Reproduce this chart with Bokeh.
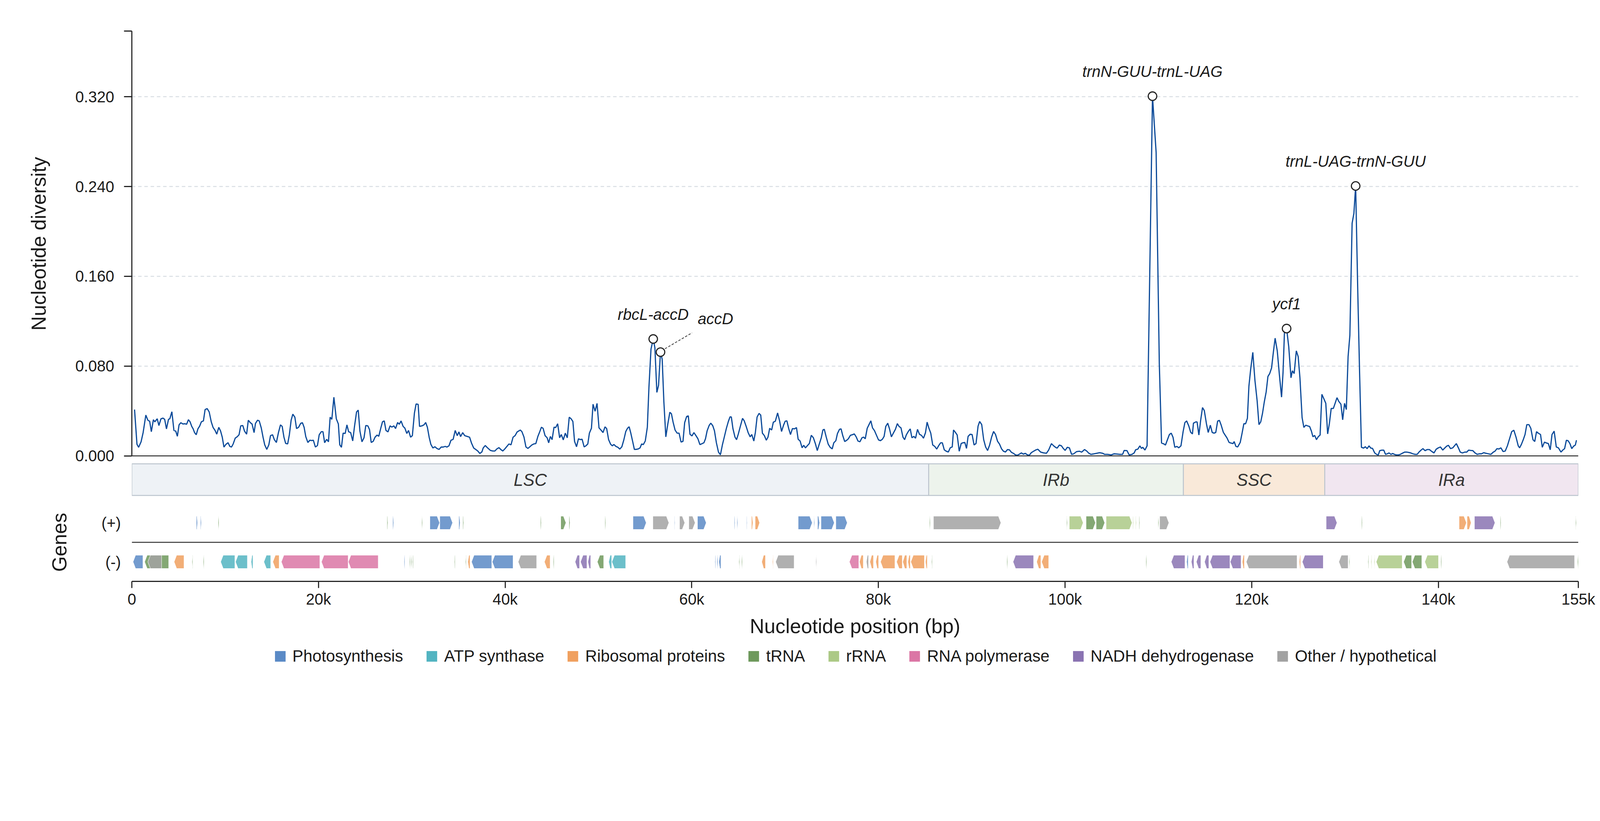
from bokeh.plotting import figure
from bokeh.layouts import column
from bokeh.models import Range1d, FixedTicker, NumeralTickFormatter, Span, Legend, LegendItem
from bokeh.core.properties import value
from bokeh.embed import file_html
from bokeh.resources import INLINE

FONT = "Liberation Sans"
TXT = "#1a1a1a"
AX = "#262626"

# ---------------- data: nucleotide diversity (sliding window) ----------------
pos1 = [290, 550, 730, 990, 1210, 1500, 1720, 1910, 2090, 2310, 2460, 2720, 2900, 3120, 3340, 3520, 3710, 3930,
        4070, 4290, 4510, 4700, 4880, 5060, 5250, 5470, 5690, 5870, 6060, 6240, 6420, 6570, 6720, 6900, 7080, 7270,
        7450, 7670, 7850, 8070, 8290, 8510, 8700, 8920, 9100, 9320, 9510, 9690, 9870, 10090, 10310, 10500, 10680,
        10860, 11080, 11300, 11490, 11670, 11890, 12070, 12300, 12480, 12700, 12880, 13100, 13250, 13470, 13650,
        13870, 14060, 14240, 14460, 14680, 14860, 15080, 15270, 15490, 15710, 15930, 16110, 16300, 16480, 16700,
        16880, 17070, 17250, 17470, 17650, 17870, 18090, 18280, 18460, 18640, 18860, 19080, 19270, 19450, 19670,
        19890, 20080, 20300, 20480, 20660, 20880, 21070, 21250, 21430, 21650, 21910, 22130, 22280, 22460, 22640,
        22860, 23050, 23230, 23450, 23670, 23860, 24080, 24260, 24440, 24660, 24880, 25070, 25290, 25470, 25650,
        25870, 26060, 26280, 26460, 26680, 26860, 27050, 27230, 27450, 27670, 27860, 28080, 28260, 28480, 28660,
        28850, 29070, 29250, 29470, 29650, 29870, 30060, 30280, 30460, 30680, 30830, 31090, 31310, 31490, 31670,
        31860, 32040, 32260, 32480, 32700, 32920, 33140, 33360, 33580, 33760, 33980, 34200, 34430, 34650, 34870,
        35050, 35230, 35450, 35670, 35890, 36190, 36410, 36630, 36850, 37070, 37290, 37510, 37650, 37870, 38130,
        38430, 38680, 38900, 39120, 39340, 39530, 39750, 39970, 40190, 40410, 40630, 40850, 41070, 41290]
pi1 = [.0413, .0104, .0077, .0126, .0208, .0364, .0318, .0309, .0216, .0323, .0304, .0331, .0271, .0331, .0337, .0326,
       .0241, .0326, .0331, .0394, .0227, .0222, .0175, .0277, .0296, .0285, .0287, .0282, .0323, .0304, .0263, .0241,
       .0208, .0189, .0241, .0266, .0304, .0312, .0413, .0422, .0392, .0304, .0255, .0227, .0194, .0255, .0222, .0167,
       .0079, .0104, .0118, .0085, .0079, .0107, .0159, .0172, .0189, .0268, .0271, .0222, .0194, .0318, .0296, .0285,
       .0208, .0290, .0318, .0312, .0249, .0167, .0099, .0058, .0099, .0181, .0189, .0145, .0120, .0208, .0277, .0263,
       .0167, .0112, .0107, .0189, .0318, .0372, .0345, .0244, .0255, .0290, .0296, .0255, .0172, .0120, .0140, .0137,
       .0140, .0079, .0093, .0189, .0216, .0216, .0118, .0148, .0126, .0345, .0326, .0523, .0331, .0285, .0099, .0077,
       .0203, .0200, .0277, .0216, .0208, .0134, .0263, .0392, .0408, .0222, .0126, .0162, .0271, .0268, .0235, .0120,
       .0131, .0167, .0186, .0175, .0249, .0304, .0312, .0227, .0214, .0268, .0257, .0268, .0244, .0298, .0282, .0312,
       .0263, .0249, .0200, .0227, .0167, .0181, .0381, .0463, .0460, .0263, .0268, .0277, .0298, .0255, .0167, .0104,
       .0071, .0082, .0066, .0058, .0079, .0079, .0085, .0079, .0090, .0140, .0148, .0227, .0181, .0214, .0172, .0208,
       .0181, .0175, .0167, .0112, .0071, .0058, .0044, .0022, .0036, .0071, .0093, .0071, .0049, .0044, .0044, .0063,
       .0074, .0058, .0044, .0063, .0085, .0107, .0099, .0167, .0181, .0214]

pos2 = [41630, 41800, 42020, 42230, 42440, 42650, 42870, 43080, 43290, 43510, 43720, 43890, 44070, 44280, 44500,
        44670, 44850, 45030, 45240, 45420, 45630, 45840, 46020, 46230, 46450, 46660, 46870, 47080, 47260, 47440,
        47650, 47860, 48040, 48250, 48470, 48680, 48860, 49030, 49250, 49420, 49640, 49850, 50060, 50270, 50490,
        50700, 50880, 51090, 51300, 51480, 51660, 51870, 52080, 52290, 52510, 52720, 52930, 53110, 53290, 53460,
        53680, 53850, 54070, 54280, 54460, 54630, 54810, 55020, 55240, 55410, 55630, 55870, 56050, 56260, 56440,
        56650, 56830, 57010, 57220, 57430, 57650, 57820, 58000, 58210, 58430, 58640, 58850, 59060, 59240, 59450,
        59630, 59810, 60020, 60230, 60450, 60660, 60870, 61080, 61300, 61470, 61650, 61860, 62040, 62250, 62430,
        62640, 62860, 63070, 63280, 63490, 63710, 63920, 64100, 64240, 64410, 64630, 64800, 64980, 65190, 65440,
        65620, 65830, 66040, 66260, 66430, 66650, 66820, 67000, 67210, 67390, 67570, 67780, 67990, 68170, 68350,
        68560, 68740, 68950, 69200, 69410, 69620, 69840, 70010, 70190, 70400, 70580, 70790, 71010, 71220, 71400,
        71610, 71820, 72000, 72180, 72390, 72600, 72810, 73030, 73240, 73450, 73660, 73880, 74050, 74200, 74410,
        74620, 74830, 75050, 75220, 75440, 75610, 75830, 76000, 76180, 76390, 76610, 76780, 77000, 77210, 77420,
        77630, 77810, 78020, 78240, 78410, 78590, 78800, 79020, 79190, 79370, 79580, 79800, 80010, 80220, 80430,
        80610, 80790, 81000, 81180, 81390, 81600, 81820, 82030, 82210, 82420, 82630, 82810, 82990, 83200, 83410,
        83590, 83800, 83980, 84190, 84400, 84620, 84830, 85040, 85220, 85400, 85610, 85820, 86030, 86250, 86460,
        86670, 86850, 87060, 87270, 87490, 87700, 87910, 88050, 88230, 88440, 88660, 88870, 89050, 89260, 89440,
        89610, 89830, 90040, 90250, 90460, 90680, 90850, 91070, 91280, 91490, 91700, 91920, 92130, 92340, 92550,
        92770, 92980, 93190, 93400, 93620, 93830, 94040, 94260, 94470, 94680, 94890, 95110, 95320, 95530, 95740,
        95960, 96170, 96380, 96630, 96880]
pi2 = [.0231, .0216, .0168, .0080, .0067, .0082, .0098, .0107, .0110, .0174, .0218, .0256, .0246, .0181, .0162, .0117,
       .0174, .0145, .0256, .0253, .0287, .0162, .0191, .0143, .0203, .0162, .0345, .0330, .0307, .0130, .0082, .0153,
       .0146, .0149, .0080, .0092, .0107, .0203, .0247, .0461, .0398, .0468, .0250, .0231, .0208, .0259, .0244, .0145,
       .0105, .0090, .0102, .0085, .0077, .0061, .0082, .0143, .0218, .0246, .0260, .0206, .0124, .0058, .0059, .0063,
       .0072, .0107, .0101, .0134, .0256, .0610, .0951, .1042, .0963, .0566, .0629, .0925, .0862, .0484, .0170, .0282,
       .0389, .0376, .0301, .0231, .0203, .0203, .0124, .0130, .0297, .0351, .0357, .0193, .0178, .0208, .0181, .0153,
       .0101, .0109, .0117, .0153, .0225, .0271, .0292, .0269, .0225, .0117, .0035, .0010, .0098, .0170, .0246, .0307,
       .0348, .0347, .0244, .0168, .0145, .0193, .0259, .0335, .0313, .0263, .0208, .0170, .0191, .0133, .0212, .0347,
       .0379, .0364, .0203, .0181, .0140, .0168, .0246, .0231, .0301, .0309, .0383, .0313, .0218, .0275, .0309, .0313,
       .0240, .0191, .0244, .0241, .0253, .0149, .0133, .0073, .0095, .0072, .0092, .0111, .0184, .0162, .0111, .0048,
       .0105, .0162, .0231, .0237, .0168, .0105, .0077, .0063, .0117, .0136, .0199, .0237, .0241, .0181, .0128, .0140,
       .0153, .0184, .0189, .0196, .0168, .0133, .0126, .0162, .0168, .0153, .0246, .0284, .0313, .0250, .0225, .0183,
       .0143, .0136, .0149, .0174, .0263, .0292, .0244, .0170, .0203, .0237, .0288, .0263, .0250, .0168, .0145, .0187,
       .0218, .0241, .0162, .0174, .0158, .0237, .0193, .0183, .0158, .0206, .0301, .0250, .0203, .0098, .0086, .0061,
       .0092, .0117, .0117, .0054, .0042, .0035, .0073, .0080, .0231, .0212, .0187, .0042, .0111, .0117, .0120, .0067,
       .0174, .0193, .0191, .0098, .0111, .0266, .0307, .0279, .0145, .0080, .0048, .0098, .0168, .0218, .0191, .0130,
       .0105, .0064, .0042, .0035, .0057, .0054, .0032, .0023, .0010, .0006, .0016, .0027, .0016, .0023, .0010, .0006,
       .0029, .0042, .0054]

pos3 = [97080, 97390, 97700, 98010, 98240, 98540, 98780, 99010, 99160, 99390, 99620, 99780, 100010, 100240, 100470,
        100700, 100930, 101240, 101550, 101780, 102090, 102320, 102550, 102780, 103090, 103400, 103710, 104020,
        104250, 104560, 104940, 105250, 105560, 105870, 106170, 106330, 106640, 106870, 107180, 107410, 107560,
        107790, 108020, 108180, 108330, 108560, 108790, 109370, 109760, 110100, 110340, 110570, 110760, 110950,
        111180, 111380, 111570, 111760, 111990, 112180, 112420, 112650, 112840, 113030, 113260, 113460, 113650,
        113760, 114030, 114150, 114340, 114530, 114730, 114920, 115150, 115340, 115570, 115770, 115960, 116150,
        116350, 116540, 116730, 116960, 117150, 117350, 117580, 117770, 118000, 118120, 118310, 118500, 118770,
        118970, 119160, 119350, 119540, 119700, 119890, 120120, 120350, 120580, 120780, 120970, 121160, 121350,
        121550, 121740, 121930, 122130, 122320, 122510, 122740, 122970, 123200, 123360, 123510, 123740, 123970,
        124210, 124360, 124550, 124780, 124980, 125170, 125400, 125590, 125790, 126020, 126210, 126400, 126560,
        126750, 126940, 127130, 127330, 127520, 127750, 127940, 128140, 128330, 128520, 128750, 128940, 129140,
        129330, 129560, 129750, 129950, 130140, 130330, 130520, 130760, 130950, 131140, 131370, 131560, 131760,
        131990, 132180, 132370, 132570, 132760, 132950, 133180, 133380, 133570, 133720, 133950, 134150, 134340,
        134530, 134720, 134920, 135110, 135300, 135490, 135730, 135920, 136150, 136380, 136610, 136800, 137040,
        137270, 137500, 137730, 137920, 138150, 138350, 138580, 138810, 139040, 139310, 139540, 139770, 140000,
        140230, 140470, 140620, 140890, 141080, 141310, 141540, 141780, 141930, 142160, 142350, 142580, 142820,
        143050, 143240, 143470, 143700, 143930, 144160, 144400, 144630, 144860, 145090, 145360, 145630, 145860,
        146090, 146280, 146480, 146710, 146940, 147170, 147400, 147630, 147860, 148090, 148330, 148560, 148710,
        148900, 149100, 149290, 149480, 149710, 149910, 150140, 150330, 150520, 150710, 150950, 151140, 151370,
        151600, 151790, 151990, 152180, 152410, 152640, 152870, 153140, 153330, 153530, 153720, 153910, 154100,
        154300, 154490, 154680, 154800]
pi3 = [.0060, .0034, .0027, .0024, .0052, .0110, .0090, .0075, .0070, .0097, .0090, .0070, .0049, .0077, .0072, .0014,
       .0019, .0039, .0042, .0034, .0057, .0044, .0024, .0014, .0019, .0024, .0029, .0024, .0014, .0014, .0009, .0019,
       .0017, .0014, .0014, .0049, .0047, .0009, .0014, .0027, .0055, .0060, .0090, .0067, .0077, .0052, .0090, .3205,
       .2703, .0822, .0115, .0108, .0097, .0140, .0191, .0203, .0166, .0077, .0085, .0072, .0090, .0216, .0297, .0312,
       .0267, .0211, .0196, .0292, .0304, .0302, .0186, .0317, .0431, .0405, .0287, .0209, .0274, .0209, .0203, .0209,
       .0310, .0317, .0274, .0211, .0186, .0161, .0120, .0115, .0110, .0128, .0085, .0080, .0120, .0203, .0287, .0287,
       .0335, .0620, .0772, .0923, .0671, .0494, .0279, .0304, .0380, .0481, .0570, .0708, .0734, .0784, .0923, .1049,
       .0936, .0721, .0524, .0746, .1100, .1135, .0973, .0696, .0759, .0734, .0936, .0885, .0696, .0342, .0254, .0274,
       .0267, .0262, .0221, .0171, .0183, .0145, .0171, .0186, .0549, .0506, .0469, .0196, .0292, .0423, .0423, .0469,
       .0519, .0486, .0461, .0322, .0469, .0413, .0885, .1074, .2072, .2160, .2405, .1453, .0746, .0077, .0070, .0082,
       .0065, .0090, .0070, .0067, .0027, .0014, .0009, .0047, .0052, .0052, .0014, .0019, .0027, .0014, .0022, .0014,
       .0009, .0009, .0014, .0024, .0034, .0034, .0032, .0027, .0019, .0014, .0014, .0034, .0052, .0065, .0047, .0057,
       .0057, .0039, .0027, .0060, .0072, .0080, .0052, .0065, .0087, .0095, .0065, .0072, .0095, .0110, .0070, .0034,
       .0027, .0034, .0034, .0052, .0049, .0047, .0027, .0014, .0019, .0019, .0029, .0024, .0019, .0014, .0032, .0044,
       .0065, .0062, .0072, .0039, .0044, .0090, .0153, .0216, .0229, .0166, .0090, .0072, .0103, .0145, .0191, .0279,
       .0279, .0246, .0145, .0128, .0216, .0203, .0191, .0077, .0123, .0115, .0110, .0055, .0191, .0221, .0080, .0072,
       .0034, .0052, .0065, .0140, .0135, .0110, .0065, .0087, .0097, .0140]

# highlighted peaks
peak_labels = ["rbcL-accD", "trnN-GUU-trnL-UAG", "ycf1", "trnL-UAG-trnN-GUU"]
peak_pos = [55870, 109370, 123740, 131140]
peak_pi = [.1042, .3205, .1135, .2405]
side_label = "accD"
side_pos = 56650
side_pi = .0925

# regions
reg_names = ["LSC", "IRb", "SSC", "IRa"]
reg_start = [0, 85390, 112680, 127830]
reg_end = [85390, 112680, 127830, 155000]
reg_colors = ["#eef2f6", "#edf3ec", "#f9e9d9", "#f1e6f0"]

# genes
categories = ["Photosynthesis", "ATP synthase", "Ribosomal proteins", "tRNA", "rRNA",
              "RNA polymerase", "NADH dehydrogenase", "Other / hypothetical"]
cat_colors = ["#5a8ac6", "#52b4c1", "#f0a05f", "#6e995c", "#acc986", "#db76a5", "#8a73b2", "#a2a2a2"]
cat_codes = ["PS", "ATP", "RIB", "TRNA", "RRNA", "RPO", "NDH", "OTH"]

plus_start = [6910, 7350, 9250, 27350, 27950, 31060, 31940, 33000, 35030, 35470, 43790, 45960, 46840, 50700,
              53700, 55830, 58130, 58690, 59680, 60610, 64560, 64840, 65870, 66400, 66790, 71400, 73080, 73480,
              73850, 75440, 85480, 85900, 100160, 100450, 102250, 103330, 104400, 107260, 107560, 107930, 109960,
              110140, 127980, 131780, 142220, 143080, 143870, 146640, 154700]
plus_end = [7040, 7450, 9340, 27440, 28060, 31140, 32980, 34370, 35180, 35560, 43880, 46520, 46950, 50780,
            55120, 57550, 58200, 59250, 60360, 61550, 64640, 64920, 65940, 66560, 67270, 72910, 73160, 73700,
            75270, 76660, 85560, 93130, 100240, 101940, 103260, 104250, 107180, 107340, 107640, 108010, 110040,
            111130, 129140, 131860, 143010, 143510, 146070, 146720, 154780]
plus_cat = ["PS", "PS", "TRNA", "TRNA", "PS", "TRNA", "PS", "PS", "PS", "TRNA", "TRNA", "TRNA", "TRNA", "TRNA",
            "PS", "OTH", "PS", "OTH", "OTH", "PS", "PS", "PS", "PS", "RIB", "RIB", "PS", "PS", "PS",
            "PS", "PS", "TRNA", "OTH", "TRNA", "RRNA", "TRNA", "TRNA", "RRNA", "RRNA", "RRNA", "TRNA", "TRNA",
            "OTH", "NDH", "TRNA", "RIB", "RIB", "NDH", "TRNA", "TRNA"]

minus_start = [130, 1370, 1720, 4530, 6460, 7660, 9520, 11110, 12780, 14150, 15110, 16020, 20320, 23200, 29170,
               29760, 29930, 30080, 34560, 35760, 36000, 36400, 38620, 41400, 44210, 45160, 47500, 48080, 48870,
               49880, 51100, 51440, 62480, 62700, 62900, 65060, 65340, 67500, 68660, 68990, 73300, 76890, 77970,
               78710, 79090, 79720, 80230, 81950, 82610, 83160, 83470, 85040, 85700, 93760, 94430, 96960, 97490,
               108660, 111380, 113030, 113530, 114070, 114950, 115530, 117700, 118990, 119420, 125100, 125420,
               129340, 130440, 132460, 132790, 133120, 133340, 136280, 137210, 138550, 140260, 147360, 154920]
minus_end = [1190, 3950, 3190, 5590, 6540, 7740, 11040, 12380, 12980, 14880, 15790, 20150, 23180, 26400, 29250,
             29840, 30010, 30160, 34640, 35840, 36240, 38570, 40850, 43380, 44820, 45240, 47980, 48770, 49170,
             50560, 51420, 52920, 62560, 62800, 63130, 65140, 65420, 67900, 68740, 70970, 73380, 77900, 78380,
             78940, 79470, 80020, 81770, 82560, 83040, 83420, 84930, 85240, 85780, 93840, 96630, 97410, 98250,
             108740, 112850, 113200, 113810, 114550, 115410, 117670, 118860, 119220, 124860, 125240, 127670,
             130330, 130520, 132540, 132870, 133200, 136130, 137140, 138230, 140020, 140340, 154600, 155000]
minus_cat = ["PS", "TRNA", "OTH", "RIB", "TRNA", "TRNA", "ATP", "ATP", "ATP", "ATP", "RIB", "RPO", "RPO", "RPO", "PS",
             "TRNA", "TRNA", "TRNA", "TRNA", "TRNA", "RIB", "PS", "PS", "OTH", "RIB", "TRNA", "NDH", "NDH", "NDH",
             "TRNA", "ATP", "ATP", "PS", "PS", "PS", "TRNA", "TRNA", "RIB", "RIB", "OTH", "OTH", "RPO", "RIB",
             "OTH", "RIB", "RIB", "RIB", "RIB", "RIB", "RIB", "RIB", "RIB", "TRNA", "TRNA", "NDH", "RIB", "RIB",
             "TRNA", "NDH", "PS", "NDH", "NDH", "NDH", "NDH", "NDH", "RIB", "OTH", "RIB", "NDH",
             "OTH", "TRNA", "TRNA", "RRNA", "RRNA", "RRNA", "TRNA", "TRNA", "RRNA", "TRNA", "OTH", "TRNA"]

x_ticks = [0, 20000, 40000, 60000, 80000, 100000, 120000, 140000, 155000]
x_tick_labels = ["0", "20k", "40k", "60k", "80k", "100k", "120k", "140k", "155k"]
y_ticks = [0.0, 0.08, 0.16, 0.24, 0.32]

# ---------------- layout constants (CSS px; page renders ~5% enlarged) ----------------
F = 1.052


def px(v):
    return v / F


def fs(v):
    return f"{v / F:.1f}px"


X_END = 155000
FRAME_W = 3703
LEFT = 337
RIGHT = 60
Y_TOP = 0.3785
Y_BOT = -0.0004
MAIN_H = 1089
BAND = 81

xr = Range1d(0, X_END)


def base_fig(**kw):
    p = figure(x_range=xr, frame_width=FRAME_W, output_backend="svg", toolbar_location=None,
               min_border_left=LEFT, min_border_right=RIGHT, **kw)
    p.outline_line_color = None
    p.background_fill_color = "white"
    p.border_fill_color = "white"
    return p


# ---------------- main diversity panel ----------------
pA = base_fig(frame_height=MAIN_H, y_range=Range1d(Y_BOT, Y_TOP), min_border_top=79, min_border_bottom=17)
pA.xaxis.visible = False
pA.xgrid.visible = False
pA.ygrid.ticker = FixedTicker(ticks=y_ticks[1:])
pA.ygrid.grid_line_color = "#d9dee3"
pA.ygrid.grid_line_width = px(2.5)
pA.ygrid.grid_line_dash = "9 7"

ya = pA.yaxis[0]
ya.ticker = FixedTicker(ticks=y_ticks + [Y_TOP])
ya.formatter = NumeralTickFormatter(format="0.000")
ya.major_label_overrides = {Y_TOP: ""}
ya.bounds = (0, Y_TOP)
ya.axis_line_width = px(3)
ya.axis_line_color = AX
ya.major_tick_line_width = px(3)
ya.major_tick_line_color = AX
ya.major_tick_out = 20
ya.major_tick_in = 0
ya.minor_tick_line_color = None
ya.major_label_text_font = FONT
ya.major_label_text_font_size = fs(42)
ya.major_label_text_color = TXT
ya.major_label_standoff = 25
ya.axis_label = "Nucleotide diversity"
ya.axis_label_text_font = FONT
ya.axis_label_text_font_size = fs(54)
ya.axis_label_text_font_style = "normal"
ya.axis_label_text_color = TXT
ya.axis_label_standoff = 62

pA.add_layout(Span(location=0, dimension="width", line_color=AX, line_width=px(3)))

pos = pos1 + pos2 + pos3
pis = pi1 + pi2 + pi3
pA.line(pos, pis, line_color="#0b4a99", line_width=px(3.2))

# accD leader line (offsets in screen pixels converted with the panel scale)
bp_per_px = X_END / FRAME_W
val_per_px = (Y_TOP - Y_BOT) / MAIN_H
pA.segment(x0=[side_pos + px(12) * bp_per_px], y0=[side_pi + px(9) * val_per_px],
           x1=[side_pos + px(85) * bp_per_px], y1=[side_pi + px(52) * val_per_px],
           line_color="#444444", line_width=px(2.2), line_dash="6 4")

pA.scatter(peak_pos + [side_pos], peak_pi + [side_pi], size=px(23), marker="circle",
           fill_color="white", line_color="#222222", line_width=px(3))
pA.text(peak_pos, peak_pi, text=peak_labels, text_font=value(FONT), text_font_size=fs(42),
        text_font_style="italic", text_color=TXT, text_align="center", text_baseline="middle", y_offset=-px(66))
pA.text([side_pos], [side_pi], text=[side_label], text_font=value(FONT), text_font_size=fs(42),
        text_font_style="italic", text_color=TXT, text_align="center", text_baseline="middle",
        x_offset=px(148), y_offset=-px(90))

# ---------------- region bar ----------------
pB = base_fig(frame_height=BAND + 5, y_range=Range1d(-3 / BAND, 1 + 2 / BAND), min_border_top=0,
              min_border_bottom=0, x_axis_type=None, y_axis_type=None)
pB.xgrid.visible = False
pB.ygrid.visible = False
pB.quad(left=reg_start, right=reg_end, bottom=0, top=1, fill_color=reg_colors,
        line_color="#bcc5ce", line_width=px(2.5))
reg_mid = [(a + b) / 2 for a, b in zip(reg_start, reg_end)]
pB.text(reg_mid, [0.5] * 4, text=reg_names, text_font=value(FONT), text_font_size=fs(46),
        text_font_style="italic", text_color="#333333", text_align="center", text_baseline="middle")

# ---------------- genes panel ----------------
pC = base_fig(frame_height=200, y_range=Range1d(-1, 1), min_border_top=17, min_border_bottom=0)
pC.xgrid.visible = False
pC.ygrid.visible = False

HEAD = 270
HH = 0.17


def arrows(starts, ends, cats, code, yc, strand):
    xs, ys = [], []
    for s, e, c in zip(starts, ends, cats):
        if c != code:
            continue
        h = min(HEAD, 0.5 * (e - s))
        if strand > 0:
            xs.append([s, e - h, e, e - h, s])
        else:
            xs.append([e, s + h, s, s + h, e])
        ys.append([yc + HH, yc + HH, yc, yc - HH, yc - HH])
    return xs, ys


draw_order = ["RRNA", "TRNA", "PS", "ATP", "RIB", "RPO", "NDH", "OTH"]
for code in draw_order:
    col = cat_colors[cat_codes.index(code)]
    for st, en, ca, yc, sd in [(plus_start, plus_end, plus_cat, 0.5, 1), (minus_start, minus_end, minus_cat, -0.5, -1)]:
        xs, ys = arrows(st, en, ca, code, yc, sd)
        if xs:
            pC.patches(xs, ys, fill_color=col, fill_alpha=0.85, line_color="white", line_width=1)

pC.add_layout(Span(location=0, dimension="width", line_color="#333333", line_width=px(2.5)))

yc_ax = pC.yaxis[0]
yc_ax.ticker = FixedTicker(ticks=[-0.5, 0.5])
yc_ax.major_label_overrides = {0.5: "(+)", -0.5: "(-)"}
yc_ax.axis_line_color = None
yc_ax.major_tick_line_color = None
yc_ax.minor_tick_line_color = None
yc_ax.major_tick_out = 0
yc_ax.major_tick_in = 0
yc_ax.major_label_text_font = FONT
yc_ax.major_label_text_font_size = fs(42)
yc_ax.major_label_text_color = TXT
yc_ax.major_label_standoff = 28
yc_ax.axis_label = "Genes"
yc_ax.axis_label_text_font = FONT
yc_ax.axis_label_text_font_size = fs(54)
yc_ax.axis_label_text_font_style = "normal"
yc_ax.axis_label_text_color = TXT
yc_ax.axis_label_standoff = 76

xa = pC.xaxis[0]
xa.ticker = FixedTicker(ticks=x_ticks)
xa.major_label_overrides = {t: l for t, l in zip(x_ticks, x_tick_labels)}
xa.axis_line_width = px(3)
xa.axis_line_color = AX
xa.major_tick_line_width = px(3)
xa.major_tick_line_color = AX
xa.major_tick_out = 17
xa.major_tick_in = 0
xa.minor_tick_line_color = None
xa.major_label_text_font = FONT
xa.major_label_text_font_size = fs(42)
xa.major_label_text_color = TXT
xa.major_label_standoff = 6
xa.axis_label = "Nucleotide position (bp)"
xa.axis_label_text_font = FONT
xa.axis_label_text_font_size = fs(54)
xa.axis_label_text_font_style = "normal"
xa.axis_label_text_color = TXT
xa.axis_label_standoff = 16

# ---------------- legend panel ----------------
pD = base_fig(frame_height=92, y_range=Range1d(0, 1), min_border_top=0, min_border_bottom=0,
              x_axis_type=None, y_axis_type=None)
pD.xgrid.visible = False
pD.ygrid.visible = False
items = []
for name, col in zip(categories, cat_colors):
    # single point far outside the visible x range: only its legend swatch shows
    r = pD.rect(x=[-1e7], y=[0.5], width=1, height=0.1, fill_color=col, line_color=None)
    items.append(LegendItem(label=name, renderers=[r]))
leg = Legend(items=items, orientation="horizontal", location="center",
             glyph_width=34, glyph_height=34, label_standoff=15, spacing=56,
             label_text_font=FONT, label_text_font_size=fs(44), label_text_color=TXT,
             border_line_color=None, background_fill_alpha=0, padding=0, margin=0)
pD.add_layout(leg, "center")

layout = column(pA, pB, pC, pD)
open("out.html", "w").write(file_html(layout, INLINE))
